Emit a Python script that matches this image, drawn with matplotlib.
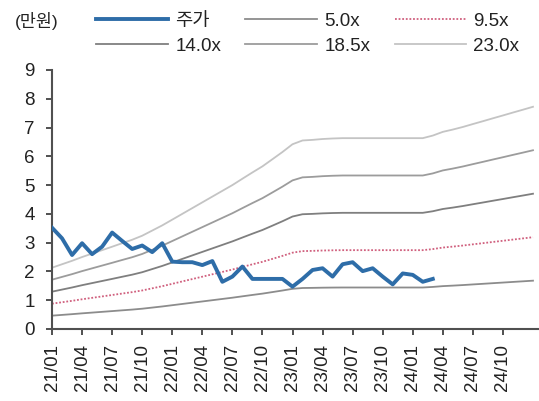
import matplotlib
matplotlib.use("Agg")
import matplotlib.pyplot as plt

plt.rcParams["font.family"] = ["Liberation Sans", "Noto Sans CJK KR"]

# monthly series, 21/01 .. 25/01
eps = [926, 978, 1030, 1087, 1139, 1191, 1243, 1296, 1348, 1409,
       1487, 1565, 1652, 1739, 1826, 1913, 2000, 2087, 2174, 2270,
       2365, 2457, 2565, 2674, 2791, 2848, 2857, 2870, 2878,
       2883, 2883, 2883, 2883, 2883, 2883, 2883, 2883, 2883,
       2922, 2978, 3013, 3052, 3096, 3139, 3183, 3226, 3270, 3313, 3357]

# share price, 만원 (21/01 .. 24/03)
price = [3.52, 3.15, 2.57, 2.98, 2.60, 2.86, 3.35, 3.06, 2.78, 2.90,
         2.67, 2.98, 2.34, 2.32, 2.32, 2.22, 2.36, 1.64, 1.82, 2.17,
         1.74, 1.74, 1.74, 1.74, 1.47, 1.74, 2.05, 2.11, 1.82, 2.25,
         2.32, 2.01, 2.11, 1.82, 1.55, 1.93, 1.88, 1.64, 1.74]

multiples = [5.0, 9.5, 14.0, 18.5, 23.0]
band_labels = ["5.0x", "9.5x", "14.0x", "18.5x", "23.0x"]
tick_labels = ["21/01", "21/04", "21/07", "21/10", "22/01", "22/04",
               "22/07", "22/10", "23/01", "23/04", "23/07", "23/10",
               "24/01", "24/04", "24/07", "24/10"]

band_styles = {
    5.0: dict(color="#8c8c8c", lw=1.3, ls="-"),
    9.5: dict(color="#d0607e", lw=1.3, ls=(0, (1, 1))),
    14.0: dict(color="#7f7f7f", lw=1.3, ls="-"),
    18.5: dict(color="#9c9c9c", lw=1.3, ls="-"),
    23.0: dict(color="#c4c4c4", lw=1.3, ls="-"),
}

fig = plt.figure(figsize=(5.39, 4.01), dpi=100)
ax = fig.add_axes([0.0965, 0.1796, 0.9035, 0.6459])

x_all = list(range(len(eps)))
lines = {}
for m, lab in zip(multiples, band_labels):
    vals = [e * m / 10000 for e in eps]
    (ln,) = ax.plot(x_all, vals, label=lab, **band_styles[m])
    lines[lab] = ln

(pl,) = ax.plot(range(len(price)), price, color="#2e6da8", lw=2.8,
                solid_joinstyle="round", label="주가", zorder=5)

ax.set_xlim(0, 48.6)
ax.set_ylim(0, 9)
ax.set_yticks(range(10))
ax.set_xticks(range(0, 48, 3))
ax.set_xticklabels(tick_labels, rotation=90)

for s in ["top", "right"]:
    ax.spines[s].set_visible(False)
for s in ["left", "bottom"]:
    ax.spines[s].set_color("#505050")
    ax.spines[s].set_linewidth(1.5)

ax.tick_params(axis="both", direction="out", length=4.5, width=1.4,
               color="#505050", labelsize=13.5, labelcolor="#222222")
ax.tick_params(axis="y", pad=8)
ax.tick_params(axis="x", pad=6)

# legend rows: 주가 / 5.0x / 9.5x on top, 14.0x / 18.5x / 23.0x below
handles = [pl, lines["14.0x"], lines["5.0x"], lines["18.5x"],
           lines["9.5x"], lines["23.0x"]]
fig.legend(handles=handles, labels=[h.get_label() for h in handles],
           ncol=3, loc="upper left", bbox_to_anchor=(0.172, 0.978),
           frameon=False, fontsize=13.5, handlelength=3.8,
           handletextpad=0.4, columnspacing=1.3, labelspacing=0.42,
           borderaxespad=0, borderpad=0.2, labelcolor="#222222")

fig.text(0.028, 0.948, "(만원)", fontsize=12.5, color="#222222",
         ha="left", va="center")

fig.savefig("out.png", dpi=100)
